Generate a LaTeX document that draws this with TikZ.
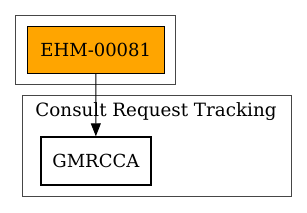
\documentclass[tikz,border=0pt]{standalone}
\usepackage{fontspec}
\setmainfont{DejaVu Serif}
\usepackage{tikz}
\usepackage{xcolor}
\usetikzlibrary{arrows.meta, positioning}
\definecolor{ehmorange}{RGB}{255,165,0}
\definecolor{cgray}    {RGB}{70,70,70}

\tikzset{
  cluster/.style={draw=cgray, line width=1pt, inner sep=0pt},
  bigfont/.style={font=\fontsize{18}{22}\selectfont},
  taskbox/.style={draw, bigfont, inner sep=0pt, minimum height=47pt},
}

\begin{document}
\begin{tikzpicture}[x=1pt, y=1pt]
  \useasboundingbox (0,0) rectangle (307,212);
  % clusters
  \node[cluster, minimum width=160pt, minimum height=68.3pt] (topcl) at (95.7,162.15) {};
  \node[cluster, minimum width=268.7pt, minimum height=101pt] (crtcl) at (156.65,66.2) {};
  \node[font=\fontsize{18.3}{22}\selectfont, anchor=base, inner sep=0pt] (crtlabel) at (156,95.7) {Consult Request Tracking};
  % nodes
  \node[taskbox, fill=ehmorange, line width=0.8pt, minimum width=137pt] (ehm) at (95.8,161.7) {EHM-00081};
  \node[taskbox, line width=2pt, minimum width=109.7pt, minimum height=47.4pt] (gmrcca) at (95.85,51) {GMRCCA};
  \draw[-{Triangle[length=13pt, width=10pt]}, line width=0.9pt] (ehm.south) -- (gmrcca.north);
\end{tikzpicture}
\end{document}
